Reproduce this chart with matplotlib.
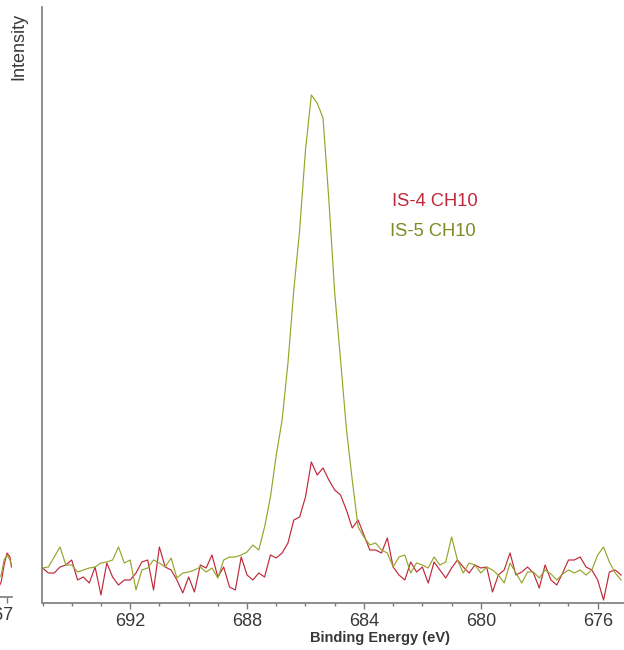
import numpy as np
import matplotlib
matplotlib.use('Agg')
from matplotlib import pyplot as plt
from matplotlib.ticker import MultipleLocator

plt.rcParams['font.family'] = ['Liberation Sans', 'DejaVu Sans']

# binding energy grid of the scan (eV), 0.2 eV steps from 695.0 down
energy = np.round(695.0 - 0.2 * np.arange(100), 1)

# IS-4 CH10 (red)
is4 = [35, 30, 30, 36, 38, 43, 23, 26, 20, 36,
       8, 40, 26, 18, 23, 23, 30, 41, 43, 13,
       56, 36, 33, 23, 10, 26, 11, 38, 35, 48,
       26, 36, 16, 13, 46, 28, 23, 30, 26, 48,
       45, 50, 60, 83, 86, 106, 141, 128, 135, 123,
       113, 108, 93, 75, 83, 68, 53, 53, 50, 65,
       36, 28, 23, 41, 31, 36, 20, 41, 33, 25,
       35, 43, 36, 30, 38, 35, 36, 11, 28, 33,
       50, 28, 31, 36, 30, 15, 38, 23, 18, 30,
       43, 43, 46, 36, 33, 23, 3, 31, 33, 28]

# IS-5 CH10 (olive)
is5 = [35, 36, 46, 56, 38, 38, 31, 33, 35, 36,
       40, 41, 43, 56, 40, 43, 13, 33, 35, 43,
       40, 36, 45, 25, 30, 31, 33, 36, 31, 35,
       25, 43, 46, 46, 48, 51, 58, 53, 76, 106,
       148, 183, 240, 313, 373, 453, 508, 500, 485, 403,
       310, 243, 174, 123, 76, 66, 58, 60, 53, 50,
       36, 46, 48, 30, 40, 38, 35, 46, 38, 41,
       66, 43, 30, 40, 38, 30, 36, 33, 28, 20,
       40, 30, 20, 31, 31, 25, 33, 29, 23, 29,
       33, 30, 33, 28, 33, 48, 56, 41, 30, 23]

# piece of the neighbouring panel visible at the left edge
left_energy = [667.25, 667.2, 667.1, 667.0, 666.9, 666.85]
left_is4 = [12, 15, 32, 44, 40, 30]
left_is5 = [20, 22, 37, 42, 37, 32]
left_tick = 667

series_names = ['IS-4 CH10', 'IS-5 CH10']
red = '#c0283a'
olive = '#97a42a'
spine_col = '#7a7a7a'
text_col = '#383838'

fig = plt.figure(figsize=(6.24, 6.5), dpi=100)
W, H = 624, 650

ax = fig.add_axes([42.5 / W, 47 / H, (W - 42.5) / W, 596 / H])
ax.plot(energy, is4, color=red, lw=0.85)
ax.plot(energy, is5, color=olive, lw=0.85)
ax.set_xlim(695.0, 675.1)
ax.set_ylim(0, 596)

ax.spines['top'].set_visible(False)
ax.spines['right'].set_visible(False)
for s in ['left', 'bottom']:
    ax.spines[s].set_color(spine_col)
    ax.spines[s].set_linewidth(1.2)
ax.set_yticks([])
ax.xaxis.set_minor_locator(MultipleLocator(1))
ax.set_xticks([692, 688, 684, 680, 676])
ax.tick_params(axis='x', which='major', length=4, width=1, color=spine_col,
               labelsize=13, labelcolor=text_col, pad=3)
ax.tick_params(axis='x', which='minor', length=2.5, width=1, color=spine_col)

fig.text(392 / W, 1 - 202 / H, series_names[0], color=red, fontsize=13.2,
         ha='left', va='center')
fig.text(390 / W, 1 - 232 / H, series_names[1], color='#7f8a22', fontsize=13.2,
         ha='left', va='center')

fig.text(380 / W, 1 - 638 / H, 'Binding Energy (eV)', fontsize=10.5,
         fontweight='bold', color=text_col, ha='center', va='center')
fig.text(19 / W, 1 - 46 / H, 'Intensity', fontsize=13, rotation=90,
         color=text_col, ha='center', va='center')

# left neighbour panel (cut off)
axl = fig.add_axes([-40 / W, 53 / H, 52 / W, 590 / H])
axl.plot(left_energy, left_is4, color=red, lw=0.85)
axl.plot(left_energy, left_is5, color=olive, lw=0.85)
axl.set_xlim(668.61, 666.83)
axl.set_ylim(0, 590)
axl.set_yticks([])
axl.set_xticks([left_tick])
axl.set_xticklabels([''])
axl.tick_params(axis='x', length=4, width=1, color=spine_col)
for s in ['top', 'right', 'left']:
    axl.spines[s].set_visible(False)
axl.spines['bottom'].set_color(spine_col)
axl.spines['bottom'].set_linewidth(1.2)
fig.text(13 / W, 1 - 615 / H, str(left_tick), fontsize=13, color=text_col,
         ha='right', va='center')

fig.savefig('out.png', dpi=100)
